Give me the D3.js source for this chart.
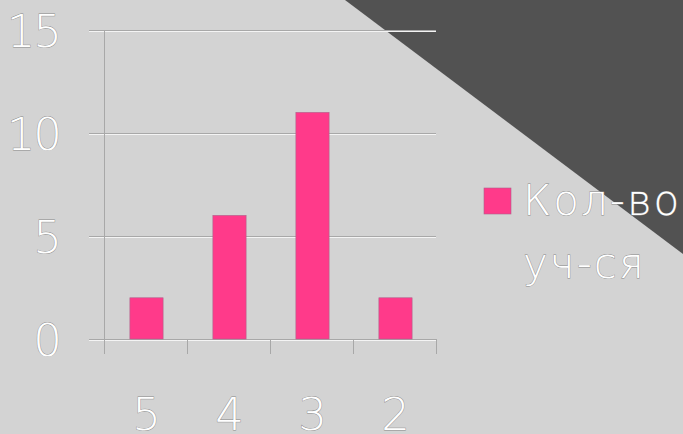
<!DOCTYPE html>
<html><head><meta charset="utf-8">
<script src="https://cdn.jsdelivr.net/npm/d3@7"></script>
<style>
html,body{margin:0;padding:0;background:#d3d3d3;}
svg{display:block;}
.t{font-family:"DejaVu Sans",sans-serif;font-weight:200;fill:#fff;stroke:#8a8a8a;stroke-width:0.8px;paint-order:stroke;}
</style></head>
<body>
<script>
const categories = ["5","4","3","2"];
const values = [2,6,11,2];
const yTicks = [0,5,10,15];
const seriesName = ["Кол-во","уч-ся"];

const W=683,H=434;
const svg=d3.select("body").append("svg").attr("width",W).attr("height",H);
svg.append("rect").attr("width",W).attr("height",H).attr("fill","#d3d3d3");
svg.append("path").attr("d",`M345,0 L${W},0 L${W},254 Z`).attr("fill","#525252");

const m={l:104,r:436,t:30,b:339};
const x=d3.scaleBand().domain(categories).range([m.l,m.r]).paddingInner(0.6).paddingOuter(0.3).align(0.52);
const xb=d3.scaleBand().domain(categories).range([m.l,m.r]);
const y=d3.scaleLinear().domain([0,15]).range([m.b,m.t]);

// gridlines
const g=svg.append("g");
yTicks.forEach(t=>{
  g.append("line").attr("x1",89).attr("x2",m.r).attr("y1",y(t)+1.5).attr("y2",y(t)+1.5).attr("stroke","#f4f4f4").attr("stroke-width",1);
  g.append("line").attr("x1",89).attr("x2",m.r).attr("y1",y(t)+0.5).attr("y2",y(t)+0.5).attr("stroke","#a8a8a8").attr("stroke-width",1);
});
// y axis line
g.append("line").attr("x1",m.l+0.5).attr("x2",m.l+0.5).attr("y1",m.t).attr("y2",m.b+15).attr("stroke","#a8a8a8");
// x ticks
const xt=categories.map(c=>xb(c)).concat([m.r]);
xt.forEach(v=>{
  g.append("line").attr("x1",v+0.5).attr("x2",v+0.5).attr("y1",m.b).attr("y2",m.b+15).attr("stroke","#a8a8a8");
});

// bars
svg.append("g").selectAll("rect").data(values).join("rect")
  .attr("x",(d,i)=>x(categories[i])).attr("width",x.bandwidth())
  .attr("y",d=>y(d)).attr("height",d=>y(0)-y(d))
  .attr("fill","#ff3a8a").attr("stroke","#b0608a").attr("stroke-width",0.6);

// y labels
svg.append("g").selectAll("text").data(yTicks).join("text").attr("class","t")
  .attr("x",60).attr("y",d=>y(d)+17).attr("text-anchor","end").attr("font-size",45)
  .attr("letter-spacing",-2).text(d=>d);
// x labels
svg.append("g").selectAll("text").data(categories).join("text").attr("class","t")
  .attr("x",d=>xb(d)+xb.bandwidth()/2+1).attr("y",430).attr("text-anchor","middle").attr("font-size",45).text(d=>d);

// legend
svg.append("rect").attr("x",484).attr("y",188).attr("width",27).attr("height",26).attr("fill","#ff3a8a").attr("stroke","#b0608a").attr("stroke-width",0.6);
svg.append("g").selectAll("text").data(seriesName).join("text").attr("class","t")
  .attr("x",523).attr("y",(d,i)=>215+i*63).attr("font-size",42).attr("letter-spacing",2).text(d=>d);
</script>
</body></html>
